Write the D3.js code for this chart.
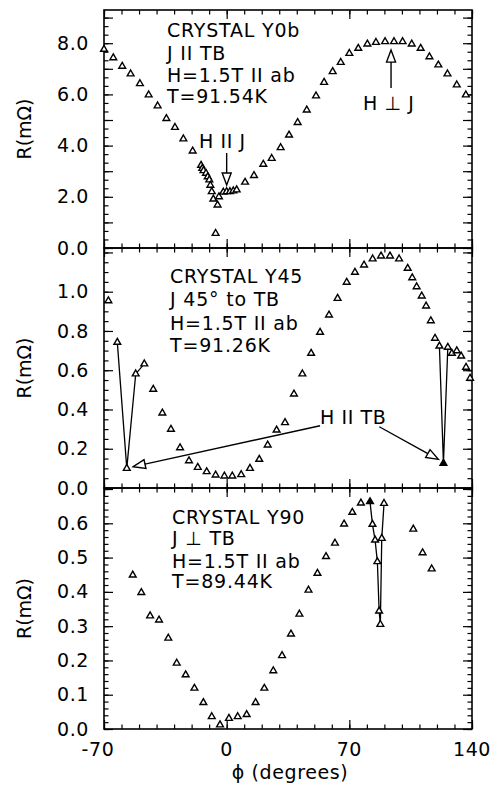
<!DOCTYPE html>
<html>
<head>
<meta charset="utf-8">
<script src="https://cdn.jsdelivr.net/npm/d3@7"></script>
<style>
  html, body { margin: 0; padding: 0; background: #fff; }
  svg text { font-family: "DejaVu Sans", sans-serif; fill: #000; }
</style>
</head>
<body>
<svg id="chart" width="495" height="787"></svg>
<script>
// Angle (degrees) and resistance (mΩ) for the three crystals
const phiY0b = [-70,-64.7,-59.6,-54.8,-49.5,-44.5,-39.4,-34.4,-29.5,-24.7,-19.4,-14.6,-13.9,-13.2,-11.8,-10.8,-9.9,-9.3,-8.5,-7.6,-6.3,-5.2,-4.4,-1.9,0,1.9,3.8,5.7,10.5,15.6,20.9,25.7,30.8,35.6,40.5,45.7,51.0,55.6,60.5,65.1,70.0,75.1,80.3,85.2,90.4,95.5,100.4,105.6,110.7,115.7,120.8,126.0,131.3,136.5];
const rY0b = [7.76,7.43,7.10,6.80,6.42,5.98,5.55,5.06,4.71,4.26,3.79,3.23,3.11,3.02,2.92,2.78,2.66,2.45,2.20,1.91,0.57,1.68,2.00,2.18,2.20,2.20,2.23,2.27,2.57,2.83,3.27,3.50,3.92,4.41,4.90,5.39,5.94,6.47,6.89,7.25,7.60,7.80,7.97,8.03,8.06,8.06,8.06,7.97,7.80,7.47,7.15,6.80,6.37,5.98];

const phiY45 = [-67.5,-62.4,-57.0,-51.9,-47.0,-41.9,-36.7,-31.8,-26.6,-21.5,-16.5,-11.4,-6.3,-1.3,3.2,8.3,13.3,18.6,23.4,28.5,33.3,38.4,43.2,48.2,53.3,58.4,63.3,68.5,73.2,78.4,83.3,88.1,93.2,98.4,103.3,105.9,108.4,111.3,113.8,116.5,118.9,121.4,123.7,126.2,128.5,131.3,133.8,136.6,138.9];
const rY45 = [0.954,0.742,0.100,0.581,0.632,0.503,0.382,0.299,0.205,0.139,0.105,0.083,0.066,0.061,0.061,0.068,0.100,0.146,0.219,0.295,0.333,0.479,0.581,0.686,0.793,0.881,0.966,1.048,1.099,1.136,1.167,1.182,1.182,1.167,1.119,1.071,1.025,0.978,0.927,0.852,0.763,0.723,0.126,0.717,0.686,0.699,0.672,0.615,0.559];

const phiY90 = [-53.6,-48.7,-43.7,-38.6,-33.3,-28.5,-23.4,-18.4,-13.3,-8.5,-3.8,1.3,6.3,11.4,16.5,21.5,26.6,31.6,36.7,41.5,46.7,51.8,56.7,61.8,67.0,71.7,76.6,81.8,83.2,84.7,86.0,87.0,87.7,88.5,89.8,106.5,111.8,117.0];
const rY90 = [0.449,0.398,0.330,0.318,0.265,0.192,0.158,0.119,0.077,0.036,0.012,0.031,0.036,0.042,0.077,0.119,0.170,0.214,0.277,0.335,0.405,0.454,0.503,0.542,0.598,0.632,0.659,0.663,0.597,0.551,0.488,0.344,0.305,0.556,0.658,0.583,0.514,0.467];

// Runs of consecutive points joined by line segments, and solid markers
const linkedY45 = [[-62.4,-57.0,-51.9,-47.0],[121.4,123.7,126.2]];
const linkedY90 = [[81.8,83.2,84.7,86.0,87.0,87.7,88.5,89.8]];
const solidY45 = [123.7];
const solidY90 = [81.8];

// Axis ticks
const xTicksLabelled = [-70, 0, 70, 140];
const yLabelsY0b = [0, 2, 4, 6, 8];
const yLabelsY45 = [0, 0.2, 0.4, 0.6, 0.8, 1.0];
const yLabelsY90 = [0, 0.1, 0.2, 0.3, 0.4, 0.5, 0.6];

// Caption lines for each panel
const notesY0b = ["CRYSTAL Y0b", "J II TB", "H=1.5T II ab", "T=91.54K"];
const notesY45 = ["CRYSTAL Y45", "J 45° to TB", "H=1.5T II ab", "T=91.26K"];
const notesY90 = ["CRYSTAL Y90", "J \u22A5 TB", "H=1.5T II ab", "T=89.44K"];

const svg = d3.select("#chart");
const x = d3.scaleLinear().domain([-70, 140]).range([104, 472]);

const panels = [
  { phi: phiY0b, r: rY0b, top: 10, bottom: 248, max: 9.297, labels: yLabelsY0b,
    major: 1, minor: 1/3, linked: [], solid: [], notes: notesY0b, noteX: 167, noteY: [37, 60, 82, 103] },
  { phi: phiY45, r: rY45, top: 248, bottom: 488, max: 1.2226, labels: yLabelsY45,
    major: 0.2, minor: 0.05, linked: linkedY45, solid: solidY45, notes: notesY45, noteX: 170, noteY: [283, 306, 330, 352] },
  { phi: phiY90, r: rY90, top: 488, bottom: 729, max: 0.703, labels: yLabelsY90,
    major: 0.1, minor: 0.02, linked: linkedY90, solid: solidY90, notes: notesY90, noteX: 172, noteY: [524, 545, 568, 588] }
];

const tri = d3.symbol().type(d3.symbolTriangle).size(20);

function range(step, max) {
  const out = [];
  for (let i = 0; i * step <= max + 1e-9; i++) out.push(+(i * step).toFixed(6));
  return out;
}

panels.forEach(p => {
  p.y = d3.scaleLinear().domain([0, p.max]).range([p.bottom, p.top]);
  const g = svg.append("g");

  // y ticks, left and right, pointing inward
  const minorV = range(p.minor, p.max);
  const majorV = range(p.major, p.max);
  const axL = g.append("g").attr("transform", `translate(${x.range()[0]},0)`);
  axL.call(d3.axisLeft(p.y).tickValues(minorV).tickSizeInner(-4.5).tickSizeOuter(0).tickFormat(""));
  axL.append("g").call(d3.axisLeft(p.y).tickValues(majorV).tickSizeInner(-9).tickSizeOuter(0).tickFormat(""));
  axL.append("g").call(d3.axisLeft(p.y).tickValues(p.labels).tickSize(0).tickPadding(15).tickFormat(d3.format(".1f")));
  const axR = g.append("g").attr("transform", `translate(${x.range()[1]},0)`);
  axR.call(d3.axisRight(p.y).tickValues(minorV).tickSizeInner(-4.5).tickSizeOuter(0).tickFormat(""));
  axR.append("g").call(d3.axisRight(p.y).tickValues(majorV).tickSizeInner(-9).tickSizeOuter(0).tickFormat(""));

  // x ticks, top and bottom, pointing inward
  const xMinor = d3.range(-70, 141, 10);
  [[p.top, d3.axisTop], [p.bottom, d3.axisBottom]].forEach(([yy, ax]) => {
    const a = g.append("g").attr("transform", `translate(0,${yy})`);
    a.call(ax(x).tickValues(xMinor).tickSizeInner(-4.5).tickSizeOuter(0).tickFormat(""));
    a.append("g").call(ax(x).tickValues(xTicksLabelled).tickSizeInner(-9).tickSizeOuter(0).tickFormat(""));
  });

  g.selectAll(".domain").remove();
  g.selectAll(".tick line").attr("stroke", "#000").attr("stroke-width", 1.2);
  g.selectAll(".tick text").style("font-size", "19px").style("letter-spacing", "0.6px")
    .attr("font-family", null);

  // frame
  g.append("rect").attr("x", x.range()[0]).attr("y", p.top)
    .attr("width", x.range()[1] - x.range()[0]).attr("height", p.bottom - p.top)
    .attr("fill", "none").attr("stroke", "#000").attr("stroke-width", 1.6);

  // joined runs
  const pts = p.phi.map((f, i) => ({ f, r: p.r[i] }));
  p.linked.forEach(run => {
    const seg = run.map(f => pts.find(d => d.f === f));
    g.append("path").datum(seg)
      .attr("d", d3.line().x(d => x(d.f)).y(d => p.y(d.r)))
      .attr("fill", "none").attr("stroke", "#000").attr("stroke-width", 1.3);
  });

  // markers
  g.selectAll("path.pt").data(pts).join("path").attr("class", "pt")
    .attr("d", tri)
    .attr("transform", d => `translate(${x(d.f)},${p.y(d.r)})`)
    .attr("fill", d => p.solid.includes(d.f) ? "#000" : "#fff")
    .attr("stroke", "#000").attr("stroke-width", 1.4);

  // caption
  p.notes.forEach((t, i) => {
    g.append("text").attr("x", p.noteX).attr("y", p.noteY[i]).text(t)
      .style("font-size", "19px").style("letter-spacing", "0.8px");
  });

  // y title
  g.append("text")
    .attr("transform", `translate(31,${(p.top + p.bottom) / 2}) rotate(-90)`)
    .attr("text-anchor", "middle").style("font-size", "19px").text("R(mΩ)");
});

// arrows with open heads, given as (phi, R) in a panel's coordinates
function arrow(p, tail, tip) {
  const x0 = x(tail[0]), y0 = p.y(tail[1]), x1 = x(tip[0]), y1 = p.y(tip[1]);
  const ang = Math.atan2(y1 - y0, x1 - x0);
  const L = 12, W = 4.5;
  const bx = x1 - L * Math.cos(ang), by = y1 - L * Math.sin(ang);
  svg.append("line").attr("x1", x0).attr("y1", y0).attr("x2", bx).attr("y2", by)
    .attr("stroke", "#000").attr("stroke-width", 1.4);
  const nx = -Math.sin(ang) * W, ny = Math.cos(ang) * W;
  svg.append("path")
    .attr("d", `M${x1},${y1}L${bx + nx},${by + ny}L${bx - nx},${by - ny}Z`)
    .attr("fill", "#fff").attr("stroke", "#000").attr("stroke-width", 1.4);
}
function label(t, px, py) {
  svg.append("text").attr("x", px).attr("y", py).text(t)
    .style("font-size", "19px").style("letter-spacing", "0.6px");
}

label("H II J", 199, 148);
arrow(panels[0], [0, 3.71], [0, 2.46]);
label("H \u22A5 J", 363, 110);
arrow(panels[0], [93.8, 6.25], [93.8, 7.73]);

label("H II TB", 320, 424);
arrow(panels[1], [53.3, 0.317], [-53.3, 0.1085]);
arrow(panels[1], [87.1, 0.312], [120.8, 0.146]);

// x tick labels and title
xTicksLabelled.forEach(v => {
  svg.append("text").attr("x", x(v) + (v < 0 ? -6 : 0)).attr("y", 756)
    .attr("text-anchor", "middle").style("font-size", "19px").style("letter-spacing", "0.6px")
    .text(v);
});
svg.append("text").attr("x", 290).attr("y", 779).attr("text-anchor", "middle")
  .style("font-size", "19px").style("letter-spacing", "0.6px").text("\u03D5 (degrees)");
</script>
</body>
</html>
